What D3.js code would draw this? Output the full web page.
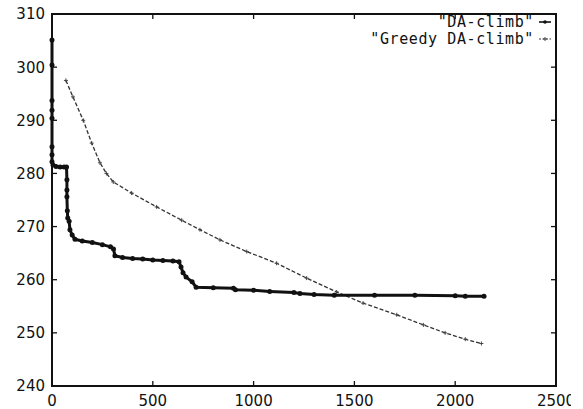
<html>
<head>
  <script src="https://d3js.org/d3.v7.min.js"></script>
  <style>
    body { margin: 0; background: white; }
    .tick-label { font-family: "DejaVu Sans", sans-serif; font-size: 15px; fill: #111; }
    .legend-label { font-family: "DejaVu Sans Mono", monospace; font-size: 15px; letter-spacing: 0.6px; fill: #111; }
  </style>
</head>
<body>
  <svg id="chart" width="571" height="409"></svg>
  <script>
    // DA-climb series (iterations vs cost)
    const daIter = [0, 0, 0, 0, 0, 0, 0, 0, 5, 20, 40, 60, 72, 74, 74, 74, 76, 78, 85, 89, 100, 114, 150, 200, 250, 290, 305, 312, 350, 400, 450, 500, 550, 600, 630, 640, 650, 665, 695, 715, 800, 900, 910, 1000, 1080, 1200, 1230, 1300, 1400, 1600, 1800, 2000, 2050, 2143];
    const daCost = [305.1, 300.4, 293.7, 291.9, 290.4, 285, 283.5, 282.2, 281.6, 281.3, 281.2, 281.2, 281.2, 278.8, 276.9, 275.6, 273, 271.6, 271, 269.4, 268.4, 267.6, 267.3, 267, 266.6, 266.2, 265.8, 264.5, 264.2, 264, 263.9, 263.7, 263.6, 263.5, 263.4, 262.4, 261.3, 260.5, 259.6, 258.6, 258.5, 258.4, 258.1, 258, 257.8, 257.6, 257.4, 257.2, 257.1, 257.1, 257.1, 257, 256.9, 256.9];

    // Greedy DA-climb series
    const greedyIter = [69, 104, 155, 197, 238, 270, 304, 395, 519, 643, 734, 833, 966, 1114, 1263, 1412, 1543, 1710, 1842, 1950, 2050, 2130];
    const greedyCost = [297.5, 294.4, 290, 285.7, 282, 280, 278.4, 276.3, 273.7, 271.2, 269.4, 267.5, 265.3, 263.1, 260.3, 257.7, 255.6, 253.4, 251.5, 250, 248.8, 248];

    const xTicks = [0, 500, 1000, 1500, 2000, 2500];
    const yTicks = [240, 250, 260, 270, 280, 290, 300, 310];
    const seriesNames = ['"DA-climb"', '"Greedy DA-climb"'];

    const svg = d3.select("#chart");
    const plot = { left: 52, right: 556, top: 14, bottom: 386 };

    const x = d3.scaleLinear().domain([0, 2500]).range([plot.left, plot.right]);
    const y = d3.scaleLinear().domain([240, 310]).range([plot.bottom, plot.top]);

    // tick marks, gnuplot style: inward and mirrored
    const tickLen = 5;
    const ticks = svg.append("g").attr("stroke", "#111").attr("stroke-width", 1.3);
    yTicks.forEach(t => {
      ticks.append("line").attr("x1", plot.left).attr("x2", plot.left + tickLen).attr("y1", y(t)).attr("y2", y(t));
      ticks.append("line").attr("x1", plot.right).attr("x2", plot.right - tickLen).attr("y1", y(t)).attr("y2", y(t));
    });
    xTicks.forEach(t => {
      ticks.append("line").attr("x1", x(t)).attr("x2", x(t)).attr("y1", plot.bottom).attr("y2", plot.bottom - tickLen);
      ticks.append("line").attr("x1", x(t)).attr("x2", x(t)).attr("y1", plot.top).attr("y2", plot.top + tickLen);
    });

    svg.append("g").selectAll("text")
      .data(yTicks)
      .enter()
      .append("text")
      .attr("class", "tick-label")
      .attr("x", plot.left - 7)
      .attr("y", d => y(d))
      .attr("dy", "0.36em")
      .attr("text-anchor", "end")
      .text(d => d);

    svg.append("g").selectAll("text")
      .data(xTicks)
      .enter()
      .append("text")
      .attr("class", "tick-label")
      .attr("x", d => x(d))
      .attr("y", 406)
      .attr("text-anchor", "middle")
      .text(d => d);

    // frame
    svg.append("rect")
      .attr("x", plot.left).attr("y", plot.top)
      .attr("width", plot.right - plot.left).attr("height", plot.bottom - plot.top)
      .attr("fill", "none").attr("stroke", "#111").attr("stroke-width", 2);

    const line = d3.line().x(d => x(d[0])).y(d => y(d[1]));
    const daPts = daIter.map((d, i) => [d, daCost[i]]);
    const greedyPts = greedyIter.map((d, i) => [d, greedyCost[i]]);

    // Greedy DA-climb: thin dashed line with small crosses
    svg.append("path")
      .datum(greedyPts)
      .attr("d", line)
      .attr("fill", "none")
      .attr("stroke", "#333")
      .attr("stroke-width", 1.3)
      .attr("stroke-dasharray", "4,2");

    svg.append("g").selectAll("path")
      .data(greedyPts)
      .enter()
      .append("path")
      .attr("d", d => `M${x(d[0]) - 2},${y(d[1])}h4M${x(d[0])},${y(d[1]) - 2}v4`)
      .attr("stroke", "#444")
      .attr("stroke-width", 1);

    // DA-climb: heavy line with dots
    svg.append("path")
      .datum(daPts)
      .attr("d", line)
      .attr("fill", "none")
      .attr("stroke", "#111")
      .attr("stroke-width", 3);

    svg.append("g").selectAll("circle")
      .data(daPts)
      .enter()
      .append("circle")
      .attr("cx", d => x(d[0]))
      .attr("cy", d => y(d[1]))
      .attr("r", 2.5)
      .attr("fill", "#111");

    // legend
    const legend = svg.append("g");
    seriesNames.forEach((name, i) => {
      const ly = 22 + i * 17;
      legend.append("text")
        .attr("class", "legend-label")
        .attr("x", 534)
        .attr("y", ly)
        .attr("dy", "0.35em")
        .attr("text-anchor", "end")
        .text(name);
      const sample = legend.append("line")
        .attr("x1", 539).attr("x2", 551)
        .attr("y1", ly).attr("y2", ly);
      if (i === 0) {
        sample.attr("stroke", "#111").attr("stroke-width", 1.6);
        legend.append("circle").attr("cx", 545).attr("cy", ly).attr("r", 1.8).attr("fill", "#111");
      } else {
        sample.attr("stroke", "#333").attr("stroke-width", 1).attr("stroke-dasharray", "2,1.5");
        legend.append("path")
          .attr("d", `M543,${ly}h4M545,${ly - 2}v4`)
          .attr("stroke", "#444").attr("stroke-width", 1);
      }
    });
  </script>
</body>
</html>
